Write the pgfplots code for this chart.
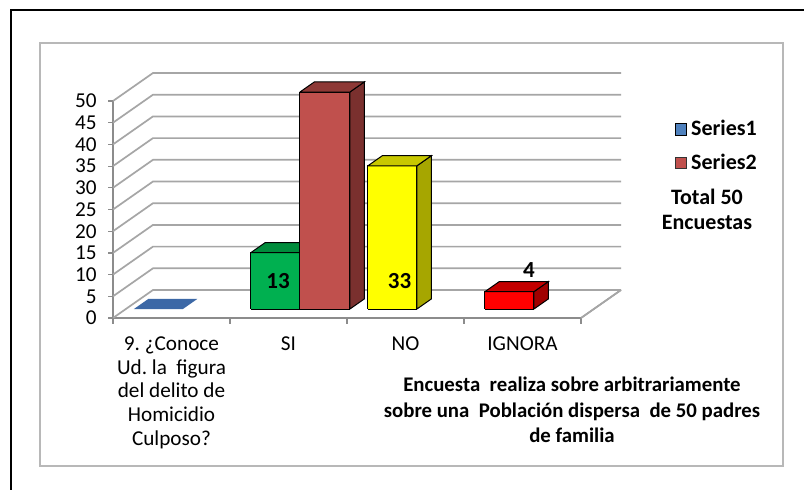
\documentclass[border=0pt]{standalone}
\usepackage{fontspec}
\setmainfont{Carlito}
\usepackage{pgfplots}
\pgfplotsset{compat=1.18}
\definecolor{gridgray}{HTML}{A6A6A6}
\definecolor{axisgray}{HTML}{8C8C8C}
\definecolor{sAblue}{HTML}{4F81BD}
\definecolor{sAbluetop}{HTML}{3C68A6}
\definecolor{sBred}{HTML}{C0504D}
\definecolor{sBredtop}{HTML}{8E3936}
\definecolor{sBredside}{HTML}{7A302E}
\definecolor{grfront}{HTML}{00B050}
\definecolor{grtop}{HTML}{008C3C}
\definecolor{grside}{HTML}{006B2E}
\definecolor{yefront}{HTML}{FFFF00}
\definecolor{yetop}{HTML}{C8C800}
\definecolor{yeside}{HTML}{A6A600}
\definecolor{rdfront}{HTML}{FF0000}
\definecolor{rdtop}{HTML}{C40000}
\definecolor{rdside}{HTML}{A00000}
% #1 x0, #2 x1, #3 value, #4 front, #5 side, #6 top colour
\newcommand\cuboid[6]{%
  \addplot3[fill=#4, draw=black, line width=0.5bp, forget plot] coordinates {(#1,0.32,0) (#2,0.32,0) (#2,0.32,#3) (#1,0.32,#3) (#1,0.32,0)};
  \addplot3[fill=#5, draw=black, line width=0.5bp, forget plot] coordinates {(#2,0.32,0) (#2,0.68,0) (#2,0.68,#3) (#2,0.32,#3) (#2,0.32,0)};
  \addplot3[fill=#6, draw=black, line width=0.5bp, forget plot] coordinates {(#1,0.32,#3) (#2,0.32,#3) (#2,0.68,#3) (#1,0.68,#3) (#1,0.32,#3)};
}
\begin{document}
\frenchspacing
\fontsize{10.6bp}{12.5bp}\selectfont
\begin{tikzpicture}
\useasboundingbox (0,0) rectangle (402bp,-245bp);
\begin{scope}[x=0.5bp,y=-0.5bp]
  \fill[white] (0,0) rectangle (804,490);
  \draw[black!28, line width=0.8bp] (40,43) rectangle (783,466);
  \draw[black, line width=1.3bp] (11,495) -- (11,10) -- (810,10);
\end{scope}
\begin{axis}[
  at={(56.5bp,-159bp)}, anchor=origin,
  x={(58.5bp,0bp)}, y={(20bp,14bp)}, z={(0bp,2.17bp)},
  xmin=0, xmax=4, ymin=0, ymax=1, zmin=0, zmax=50,
  axis lines=left,
  axis line style={-, draw=axisgray, line width=0.75bp},
  every outer x axis line/.append style={-},
  every outer y axis line/.append style={-},
  every outer z axis line/.append style={-},
  xtick={0,1,2,3,4}, xticklabels={},
  ytick=\empty,
  ztick={0,5,...,50},
  tick style={draw=none},
  major tick length=0pt,
  /pgf/number format/assume math mode=true,
  tick label style={font=\fontsize{10.6bp}{12.5bp}\selectfont},
  z tick label style={anchor=east, xshift=-4.5bp},
  extra x ticks={0.5,1.5,2.5,3.5},
  extra x tick labels={{9. ¿Conoce\\Ud. la~ figura\\del delito de\\Homicidio\\Culposo?},SI,NO,IGNORA},
  extra x tick style={tick label style={align=center, anchor=north, yshift=-5.5bp, font=\fontsize{10.6bp}{11.9bp}\selectfont}},
  clip=false,
  legend style={at={(1.094,0.842)}, anchor=north west, draw=none, fill=none,
    font=\bfseries\fontsize{11bp}{13bp}\selectfont, row sep=3.5bp},
  legend cell align=left,
  legend image code/.code={\path[#1] (0bp,-2.8bp) rectangle (5.6bp,2.8bp);},
]
% walls: back wall and side wall grid lines
\pgfplotsinvokeforeach{0,5,...,50}{
  \addplot3[draw=gridgray, line width=0.85bp, forget plot] coordinates {(0,0,#1) (0,1,#1) (4,1,#1)};
  \addplot3[draw=axisgray, line width=0.6bp, forget plot] coordinates {(-0.04,0,#1) (0,0,#1)};
}
\pgfplotsinvokeforeach{0,1,2,3,4}{
  \addplot3[draw=axisgray, line width=0.6bp, forget plot] coordinates {(#1,0,0) (#1,0,-1.4)};
}
% floor right edge
\addplot3[draw=gridgray, line width=0.85bp, forget plot] coordinates {(4,0,0) (4,1,0)};
% Series1, category 1 (value 0): flat
\addplot3[fill=sAbluetop, draw=none, forget plot] coordinates {(0.069,0.32,0) (0.488,0.32,0) (0.488,0.68,0) (0.069,0.68,0) (0.069,0.32,0)};
% SI: Series1 = 13, Series2 = 50
\cuboid{1.069}{1.488}{13}{grfront}{grside}{grtop}
\cuboid{1.488}{1.915}{50}{sBred}{sBredside}{sBredtop}
% NO: Series1 = 33
\cuboid{2.069}{2.488}{33}{yefront}{yeside}{yetop}
% IGNORA: Series1 = 4
\cuboid{3.069}{3.488}{4}{rdfront}{rdside}{rdtop}
% data labels
\node[font=\bfseries\fontsize{11.5bp}{13bp}\selectfont] at (axis cs:1.24,0.5,5.4) {13};
\node[font=\bfseries\fontsize{11.5bp}{13bp}\selectfont] at (axis cs:2.2785,0.5,5.4) {33};
\node[font=\bfseries\fontsize{11.5bp}{13bp}\selectfont] at (axis cs:3.385,0.5,7.8) {4};
% legend
\addlegendimage{fill=sAblue}
\addlegendentry{Series1}
\addlegendimage{fill=sBred, draw=black!80}
\addlegendentry{Series2}
\end{axis}
\begin{scope}[x=0.5bp,y=-0.5bp]
  \node[font=\bfseries\fontsize{11bp}{12.5bp}\selectfont, align=center] at (707,209) {Total 50\\Encuestas};
  \node[font=\bfseries\fontsize{10.4bp}{12.8bp}\selectfont, align=center] at (572,410) {Encuesta~ realiza sobre arbitrariamente\\sobre una~ Población dispersa~ de 50 padres\\de familia};
\end{scope}
\end{tikzpicture}
\end{document}
